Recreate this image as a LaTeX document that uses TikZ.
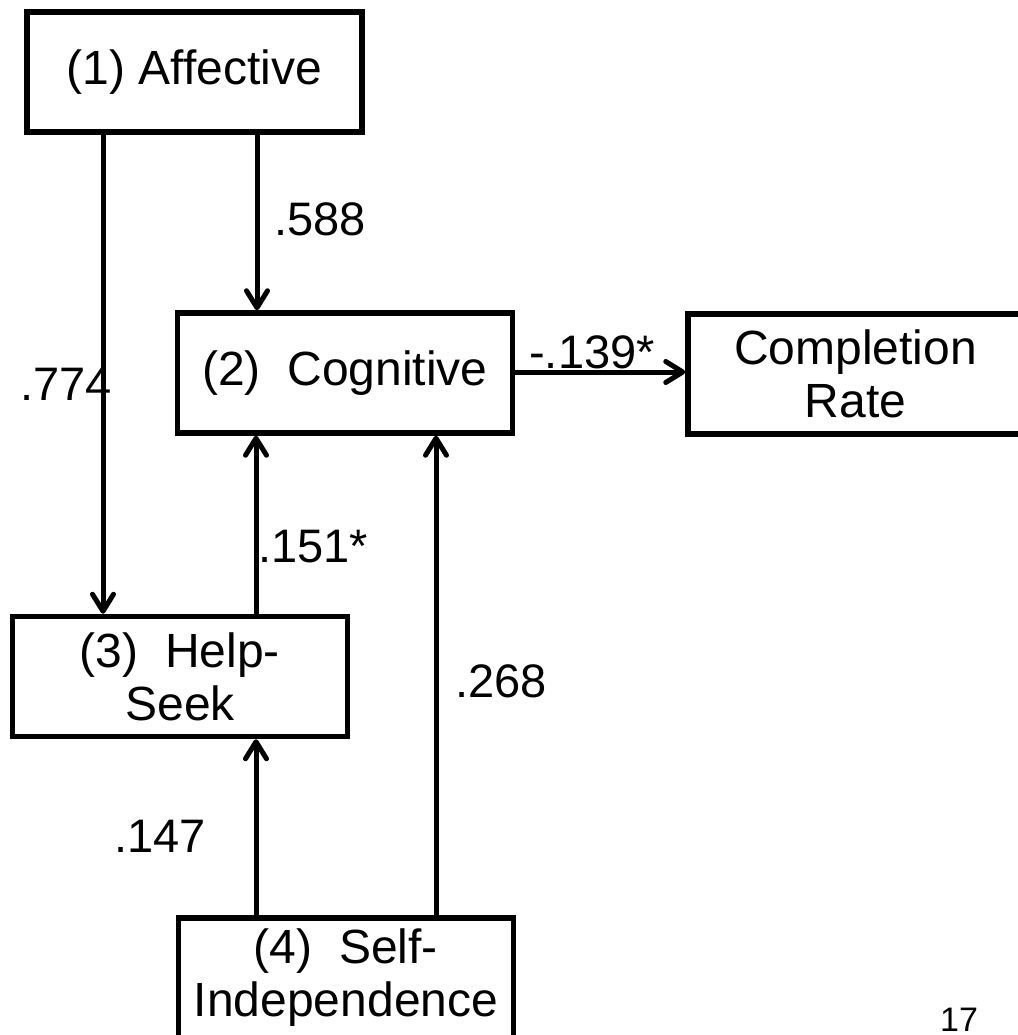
\documentclass[tikz,border=0pt]{standalone}
\usepackage{fontspec}
\setmainfont{Liberation Sans}
\usetikzlibrary{arrows.meta}
\begin{document}
\begin{tikzpicture}[x=1pt,y=-1pt,
  box/.style={draw, line width=5.5pt, minimum width=335pt, minimum height=120pt, inner sep=0pt, align=center, font=\fontsize{48}{53}\selectfont},
  lbl/.style={anchor=base, inner sep=0pt, font=\fontsize{47}{52}\selectfont},
  conn/.style={line width=5pt, -{Straight Barb[length=17pt,width=21pt,line cap=round,line join=round]}}]
\useasboundingbox (0,0) rectangle (1017,1035);
\node[box] (b1) at (194.5,72) {(1) Affective};
\node[box] (b2) at (345,373) {(2)\ \ Cognitive};
\node[box] (b3) at (180,676.5) {(3)\ \ Help-\\Seek};
\node[box] (b4) at (346,978) {(4)\ \ Self-\\Independence};
\node[box] (b5) at (855.5,374) {Completion\\Rate};
\coordinate (xa) at (103,0);
\coordinate (xb) at (257,0);
\coordinate (xc) at (256,0);
\coordinate (xd) at (436,0);
\coordinate (ya) at (0,372);
\draw[conn] (b1.south -| xa) -- (b3.north -| xa);
\draw[conn] (b1.south -| xb) -- (b2.north -| xb);
\draw[conn] (b3.north -| xc) -- (b2.south -| xc);
\draw[conn] (b4.north -| xd) -- (b2.south -| xd);
\draw[conn] (b4.north -| xc) -- (b3.south -| xc);
\draw[conn] (b2.east |- ya) -- (b5.west |- ya);
\node[lbl] (l1) at (320,235) {.588};
\node[lbl] (l2) at (66,400) {.774};
\node[lbl] (l3) at (313,562) {.151*};
\node[lbl] (l4) at (501,697) {.268};
\node[lbl] (l5) at (160,852) {.147};
\node[lbl] (l6) at (592,368) {-.139*};
\node[anchor=base, inner sep=0pt, font=\fontsize{34}{37}\selectfont] (pg) at (959,1031) {17};
\end{tikzpicture}
\end{document}
